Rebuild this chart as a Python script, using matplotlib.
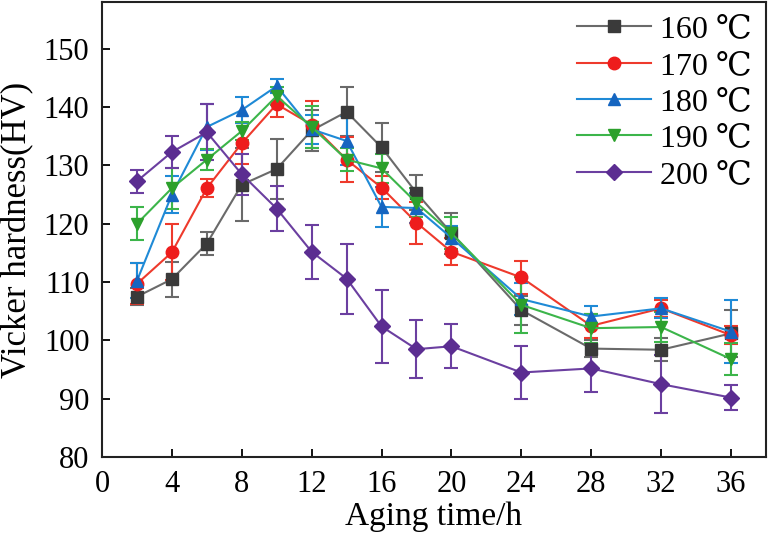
import matplotlib
matplotlib.use("Agg")
import matplotlib.pyplot as plt

plt.rcParams['font.family'] = ['Liberation Serif', 'DejaVu Serif']

hours = [2, 4, 6, 8, 10, 12, 14, 16, 18, 20, 24, 28, 32, 36]
labels = ["160 ℃", "170 ℃", "180 ℃", "190 ℃", "200 ℃"]

hv_160 = [107.5, 110.5, 116.6, 126.7, 129.4, 136.0, 139.2, 133.1, 125.3, 118.4, 105.2, 98.6, 98.4, 101.2]
err_160 = [1.5, 3.0, 2.0, 6.3, 5.2, 3.5, 4.2, 4.2, 3.0, 3.5, 2.5, 1.5, 2.0, 4.0]
hv_170 = [109.7, 115.1, 126.1, 133.8, 140.5, 137.0, 131.0, 126.2, 120.2, 115.2, 110.8, 102.5, 105.5, 100.9]
err_170 = [3.5, 4.8, 1.5, 3.5, 2.2, 4.0, 3.8, 2.0, 3.6, 2.3, 2.8, 2.0, 1.5, 1.5]
hv_180 = [110.2, 125.0, 136.6, 139.5, 143.6, 136.2, 134.2, 122.9, 122.7, 117.6, 107.1, 104.1, 105.5, 101.5]
err_180 = [3.0, 3.2, 4.0, 2.2, 1.2, 2.5, 4.2, 3.4, 2.5, 2.0, 2.7, 1.8, 1.7, 5.4]
hv_190 = [120.0, 126.1, 131.0, 135.9, 141.9, 136.6, 131.0, 129.5, 123.6, 118.4, 106.1, 102.1, 102.3, 96.8]
err_190 = [2.8, 3.5, 1.8, 1.5, 1.5, 3.6, 2.0, 2.5, 2.5, 2.8, 4.8, 2.5, 2.5, 2.7]
hv_200 = [127.3, 132.3, 135.7, 128.5, 122.6, 115.2, 110.6, 102.4, 98.5, 99.0, 94.5, 95.2, 92.5, 90.2]
err_200 = [2.0, 2.7, 4.8, 3.5, 3.8, 4.6, 6.0, 6.2, 5.0, 3.8, 4.6, 4.0, 5.0, 2.2]

series = [hv_160, hv_170, hv_180, hv_190, hv_200]
errors = [err_160, err_170, err_180, err_190, err_200]
line_colors = ['#6a6a6a', '#ee3a2c', '#1f8ad6', '#3cb54a', '#6b3fa0']
marker_colors = ['#3a3a3a', '#ee1c1c', '#1565c0', '#2ca02c', '#5b2d91']
markers = ['s', 'o', '^', 'v', 'D']
msizes = [8, 9, 9, 9, 8]

fig = plt.figure(figsize=(7.69, 5.39), dpi=100)
ax = fig.add_axes([0.1326, 0.152, 0.8634, 0.844])

handles = []
for y, e, lc, mc, m, ms, lab in zip(series, errors, line_colors, marker_colors, markers, msizes, labels):
    c = ax.errorbar(hours, y, yerr=e, color=lc, marker=m, markersize=ms,
                    markerfacecolor=mc, markeredgecolor=mc, linewidth=1.5,
                    elinewidth=1.5, capsize=5, capthick=1.5, label=lab)
    handles.append(c[0])

ax.set_xlim(0, 38)
ax.set_ylim(80, 158)
ax.set_xticks([0, 4, 8, 12, 16, 20, 24, 28, 32, 36])
ax.set_yticks([80, 90, 100, 110, 120, 130, 140, 150])
ax.tick_params(direction='in', labelsize=22, width=1.3, length=6)
ax.tick_params(axis='x', pad=9)
ax.tick_params(axis='y', pad=9)
for s in ax.spines.values():
    s.set_linewidth(1.5)
    s.set_color('#222222')

ax.set_xlabel('Aging time/h', fontsize=24)
ax.set_ylabel('Vicker hardness(HV)', fontsize=25)
ax.xaxis.set_label_coords(0.5, -0.098)
ax.yaxis.set_label_coords(-0.102, 0.5)

leg = fig.legend(handles, labels, loc='upper right', bbox_to_anchor=(752 / 769, 1 - 15 / 539),
                 fontsize=23, frameon=False, handlelength=2.3, labelspacing=0.22,
                 borderaxespad=0.0, handletextpad=0.3, borderpad=0.0)

fig.savefig('out.png', dpi=100)
